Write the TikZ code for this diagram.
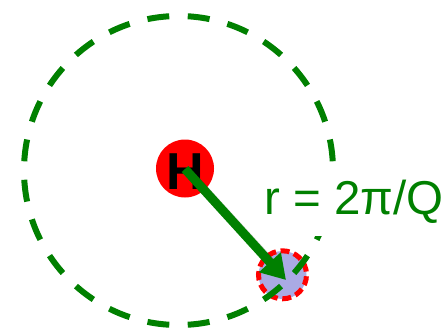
\documentclass[tikz,border=0pt]{standalone}
\usepackage{fontspec}
\setmainfont{Liberation Sans}
\usetikzlibrary{arrows.meta}
\definecolor{dkgreen}{RGB}{0,128,0}
\definecolor{lav}{RGB}{170,170,228}
\tikzset{
  bigring/.style={draw=dkgreen, line width=6pt, dash pattern=on 22pt off 18.45pt, dash phase=31.2pt},
  probe/.style={circle, fill=lav, minimum size=48pt, inner sep=0pt},
  probering/.style={draw=red, line width=5pt, dash pattern=on 9pt off 4.7pt, dash phase=2pt},
  atom/.style={circle, fill=red, minimum size=58pt, inner sep=0pt},
  vec/.style={draw=dkgreen, line width=9pt, -{Triangle[length=24pt,width=28pt]}},
  vecshadow/.style={draw=black, opacity=0.18, line width=9pt},
  lbl/.style={text=dkgreen, fill=white, inner xsep=2pt, inner ysep=13pt, font=\fontsize{47.5}{52}\selectfont}
}
\begin{document}
\begin{tikzpicture}[x=1pt,y=-1pt]
\useasboundingbox (0,0) rectangle (446,330);
\coordinate (c) at (178.5,170.5);
\coordinate (ctop) at (178.5,16);
\node[probe] (p) at (282.5,275) {};
\draw[probering] (p.north) arc[start angle=90, end angle=-270, radius=24pt];
\draw[bigring] (ctop) arc[start angle=90, end angle=-270, radius=154.5pt];
\node[lbl, anchor=base west] (r) at (262,214) {r = 2π/Q};
\node[atom] (a) at (185,168.5) {};
\node[inner sep=0pt, font=\bfseries\fontsize{52}{56}\selectfont] (h) at (185.5,172) {H};
\coordinate (s) at (185,169);
\coordinate (t) at (286,280);
\coordinate (s2) at (188,172);
\coordinate (t2) at (276,268);
\draw[vecshadow] (s2) -- (t2);
\draw[vec] (s) -- (t);
\end{tikzpicture}
\end{document}
